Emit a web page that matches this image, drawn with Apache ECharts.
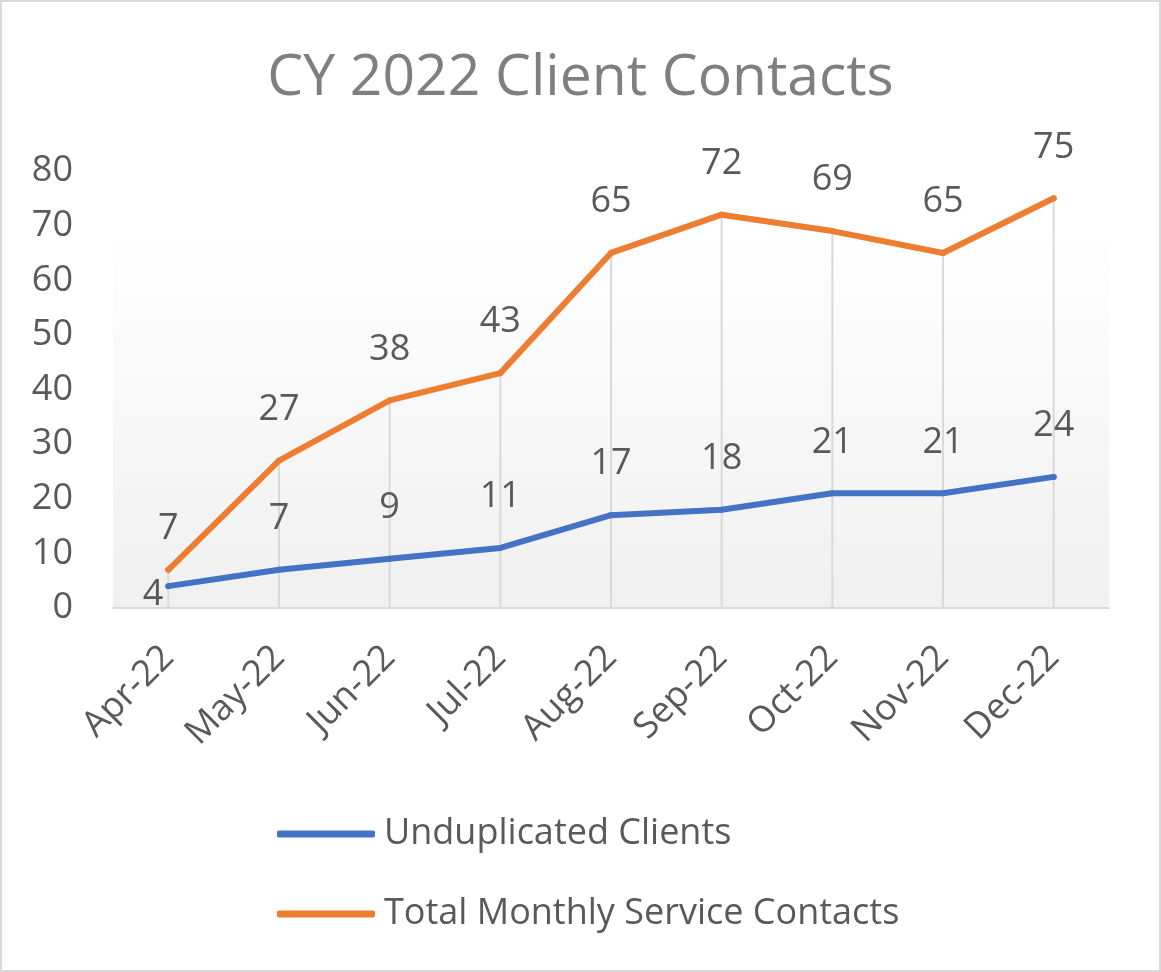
<!DOCTYPE html>
<html>
<head>
<meta charset="utf-8">
<script src="https://cdn.jsdelivr.net/npm/echarts@6/dist/echarts.min.js"></script>
<style>
html,body{margin:0;padding:0;background:#fff;}
#frame{position:absolute;left:0;top:0;width:1157px;height:968px;border:2px solid #d9d9d9;background:#fff;}
#chart{position:absolute;left:0;top:0;width:1161px;height:972px;}
</style>
</head>
<body>
<div id="frame"></div>
<div id="chart"></div>
<script>
const categories = ['Apr-22','May-22','Jun-22','Jul-22','Aug-22','Sep-22','Oct-22','Nov-22','Dec-22'];
const unduplicatedClients = [4, 7, 9, 11, 17, 18, 21, 21, 24];
const totalContacts = [7, 27, 38, 43, 65, 72, 69, 65, 75];
const yTicks = [0, 10, 20, 30, 40, 50, 60, 70, 80];

const FONT = 'Open Sans';
const TXT = '#595959';

const chart = echarts.init(document.getElementById('chart'), null, {renderer: 'canvas'});
chart.setOption({
  animation: false,
  title: {
    text: 'CY 2022 Client Contacts',
    left: 'center',
    top: 45,
    textStyle: {fontFamily: FONT, fontSize: 57, fontWeight: 'normal', color: '#7f7f7f'}
  },
  grid: {
    left: 113, right: 52, top: 171, bottom: 364,
    show: true,
    borderWidth: 0,
    backgroundColor: new echarts.graphic.LinearGradient(0, 0, 0, 1, [
      {offset: 0, color: '#ffffff'},
      {offset: 0.12, color: '#ffffff'},
      {offset: 1, color: '#f0f0f0'}
    ])
  },
  legend: {
    orient: 'vertical',
    left: 272,
    top: 811,
    itemWidth: 98,
    itemHeight: 7,
    itemGap: 44,
    data: [
      {name: 'Unduplicated Clients', icon: 'roundRect'},
      {name: 'Total Monthly Service Contacts', icon: 'roundRect'}
    ],
    textStyle: {fontFamily: FONT, fontSize: 36, color: TXT, padding: [0, 0, 0, 4]}
  },
  xAxis: {
    type: 'category',
    data: categories,
    boundaryGap: true,
    axisLine: {show: true, lineStyle: {color: '#d9d9d9', width: 2}},
    axisTick: {show: false},
    splitLine: {show: false},
    axisLabel: {rotate: 45, margin: 44, fontFamily: FONT, fontSize: 36, color: TXT, interval: 0}
  },
  yAxis: {
    type: 'value',
    min: yTicks[0],
    max: yTicks[yTicks.length - 1],
    interval: 10,
    axisLine: {show: false},
    axisTick: {show: false},
    splitLine: {show: false},
    axisLabel: {margin: 40, fontFamily: FONT, fontSize: 36, color: TXT}
  },
  series: [
    {
      name: 'dropLines',
      type: 'bar',
      data: totalContacts,
      barWidth: 2,
      silent: true,
      itemStyle: {color: '#d9d9d9'},
      z: 1
    },
    {
      name: 'Unduplicated Clients',
      type: 'line',
      data: unduplicatedClients.map((v, i) => i === 0
        ? {value: v, label: {position: 'left', distance: 2, offset: [0, 9]}}
        : v),
      symbol: 'circle',
      symbolSize: 6,
      showSymbol: true,
      lineStyle: {width: 6, color: '#4472c4', cap: 'round', join: 'round'},
      itemStyle: {color: '#4472c4'},
      label: {show: true, position: 'top', distance: 30, fontFamily: FONT, fontSize: 36, color: TXT},
      z: 3
    },
    {
      name: 'Total Monthly Service Contacts',
      type: 'line',
      data: totalContacts.map((v, i) => i === 0
        ? {value: v, label: {distance: 20}}
        : v),
      symbol: 'circle',
      symbolSize: 6,
      showSymbol: true,
      lineStyle: {width: 6, color: '#ed7d31', cap: 'round', join: 'round'},
      itemStyle: {color: '#ed7d31'},
      label: {show: true, position: 'top', distance: 30, fontFamily: FONT, fontSize: 36, color: TXT},
      z: 3
    }
  ]
});
</script>
</body>
</html>
